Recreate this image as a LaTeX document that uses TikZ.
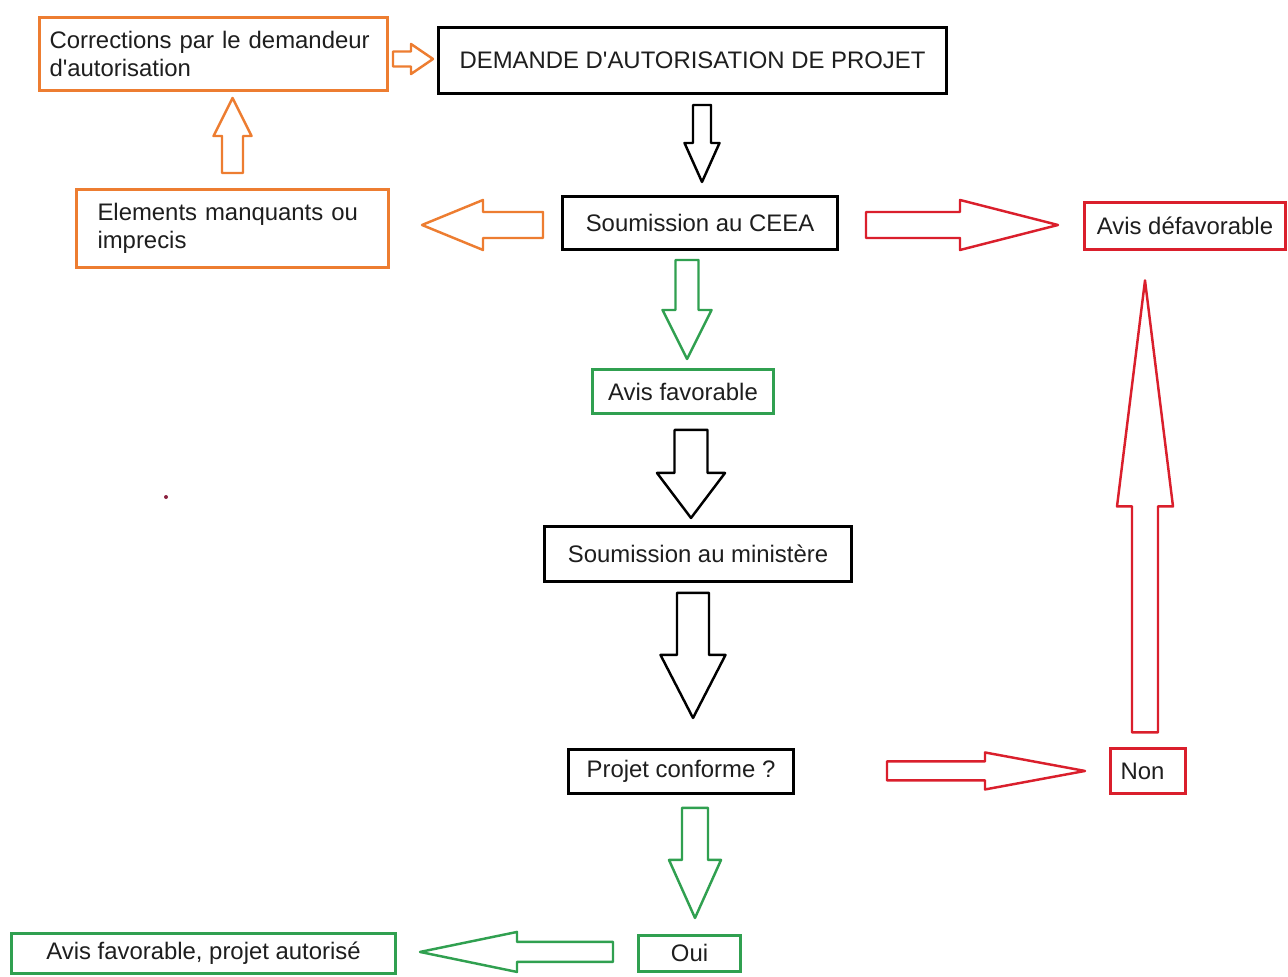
\documentclass[tikz,border=0pt]{standalone}
\usepackage{fontspec}
\setmainfont{Liberation Sans}
\usepackage{tikz}
\usetikzlibrary{positioning,calc}
\definecolor{ink}{HTML}{1E1E1E}
\definecolor{warnorange}{HTML}{ED7D31}
\definecolor{nogored}{HTML}{DA1F2C}
\definecolor{gogreen}{HTML}{30A050}
\definecolor{stray}{HTML}{8B2240}
\tikzset{
  box/.style     ={draw=black,line width=1.7pt,fill=white,inner sep=0pt,
                   align=center,text=ink},
  warn/.style    ={box,draw=warnorange},
  nogo/.style    ={box,draw=nogored},
  go/.style      ={box,draw=gogreen},
  flow/.style    ={draw=black,line width=1.4pt,fill=white,line join=round},
  flowwarn/.style={flow,draw=warnorange},
  flownogo/.style={flow,draw=nogored},
  flowgo/.style  ={flow,draw=gogreen}
}
% block arrow: style, tail, tip, shaft width, head width, head length
\newcommand{\blockarrow}[6]{%
  \draw[#1] let \p1=(#2), \p2=(#3), \n1={atan2(\y2-\y1,\x2-\x1)},
    \n2={veclen(\x2-\x1,\y2-\y1)} in [shift={(\p1)},rotate=\n1]
    (0pt,-#4/2) -- ({\n2-#6},-#4/2) -- ({\n2-#6},-#5/2) -- (\n2,0pt)
    -- ({\n2-#6},#5/2) -- ({\n2-#6},#4/2) -- (0pt,#4/2) -- cycle;}

\begin{document}
\begin{tikzpicture}[every node/.style={font=\fontsize{13.6}{15.9}\selectfont}]
    \useasboundingbox (0,0) rectangle (257.6mm,-195.2mm);
    \node[box,minimum width=101.6mm,minimum height=13.2mm] (dem) at (138.5mm,-12.1mm) {DEMANDE D\textquotesingle AUTORISATION DE PROJET};
    \node[warn,minimum width=69.6mm,minimum height=14.6mm,text width=65.6mm,align=left,inner xsep=2mm,
          left=9.6mm of dem,yshift=1.3mm] (cor) {Corrections par le demandeur\\d\textquotesingle autorisation};
    \node[box,minimum width=55mm,minimum height=10.6mm,below=20mm of dem,xshift=1.5mm] (ceea) {Soumission au CEEA};
    \node[warn,minimum width=62.4mm,minimum height=15.6mm,text width=54mm,align=left,inner xsep=4.2mm,
          left=34.2mm of ceea,yshift=-1.1mm] (elem) {Elements manquants ou\\imprecis};
    \node[nogo,minimum width=40.2mm,minimum height=9.4mm,right=48.8mm of ceea,yshift=-0.6mm] (defav) {Avis défavorable};
    \node[go,minimum width=36.2mm,minimum height=8.8mm,below=23.4mm of ceea,xshift=-3.4mm] (favo) {Avis favorable};
    \node[box,minimum width=61.4mm,minimum height=11mm,below=22mm of favo,xshift=3mm] (mini) {Soumission au ministère};
    \node[box,minimum width=45mm,minimum height=8.8mm,below=33mm of mini,xshift=-3.4mm] (conf) {Projet conforme ?};
    \node[nogo,minimum width=15mm,minimum height=9mm,text width=11mm,align=left,inner xsep=2mm,
          right=62.8mm of conf] (non) {Non};
    \node[go,minimum width=20.4mm,minimum height=7.2mm,below=27.8mm of conf,xshift=1.7mm] (oui) {Oui};
    \node[go,minimum width=76.8mm,minimum height=8mm,left=48mm of oui] (autor) {Avis favorable, projet autorisé};
    \blockarrow{flowwarn}{$(dem.west)+(-8.8mm,0.3mm)$}{$(dem.west)+(-0.8mm,0.3mm)$}{3mm}{6mm}{4.4mm}
    \blockarrow{flow}{$(ceea.north)+(0.4mm,18mm)$}{$(ceea.north)+(0.4mm,2.6mm)$}{3.6mm}{7mm}{7.8mm}
    \blockarrow{flowwarn}{$(ceea.west)+(-3.6mm,-0.4mm)$}{$(ceea.west)+(-27.8mm,-0.4mm)$}{5.2mm}{10mm}{12.2mm}
    \blockarrow{flowwarn}{$(elem.north)+(0,3mm)$}{$(elem.north)+(0,18mm)$}{4.2mm}{7.6mm}{7.6mm}
    \blockarrow{flownogo}{$(ceea.east)+(5.4mm,-0.4mm)$}{$(ceea.east)+(43.8mm,-0.4mm)$}{5.2mm}{10mm}{19.6mm}
    \blockarrow{flowgo}{$(favo.north)+(0.8mm,21.6mm)$}{$(favo.north)+(0.8mm,1.8mm)$}{4.6mm}{9.8mm}{9.8mm}
    \blockarrow{flow}{$(mini.north)+(-1.4mm,19mm)$}{$(mini.north)+(-1.4mm,1.4mm)$}{6.6mm}{13.6mm}{9mm}
    \blockarrow{flow}{$(mini.south)+(-1mm,-2mm)$}{$(mini.south)+(-1mm,-27mm)$}{6.4mm}{13mm}{12.6mm}
    \blockarrow{flowgo}{$(oui.north)+(1.1mm,25.2mm)$}{$(oui.north)+(1.1mm,3.2mm)$}{5.2mm}{10.4mm}{11.6mm}
    \blockarrow{flowgo}{$(oui.west)+(-4.8mm,0.3mm)$}{$(oui.west)+(-43.4mm,0.3mm)$}{4mm}{8mm}{19.4mm}
    \blockarrow{flownogo}{$(conf.east)+(18.4mm,0.1mm)$}{$(conf.east)+(58mm,0.1mm)$}{3.8mm}{7.4mm}{20mm}
    \blockarrow{flownogo}{$(non.north)+(-0.6mm,3mm)$}{$(non.north)+(-0.6mm,93.4mm)$}{5.2mm}{11.2mm}{45.2mm}
    \fill[stray] (33.2mm,-99.4mm) circle (0.4mm);
\end{tikzpicture}
\end{document}
